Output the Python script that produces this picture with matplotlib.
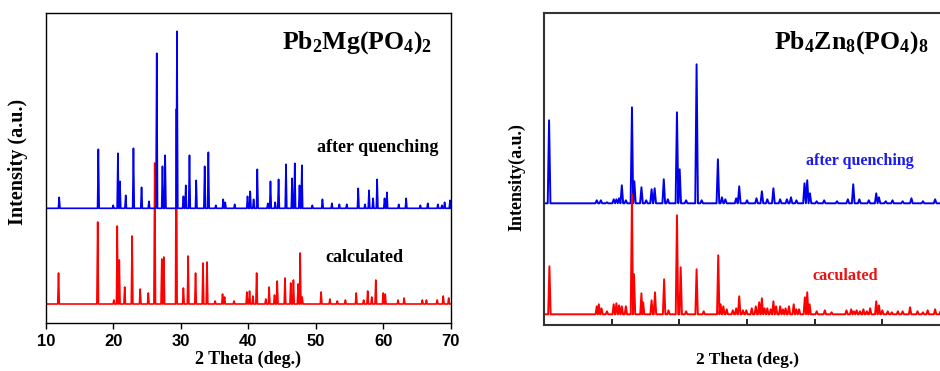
import matplotlib
matplotlib.use('Agg')
import matplotlib.pyplot as plt
import numpy as np

plt.rcParams['mathtext.fontset'] = 'custom'
plt.rcParams['mathtext.rm'] = 'Liberation Serif'
plt.rcParams['mathtext.bf'] = 'Liberation Serif:bold'

# Pb2Mg(PO4)2 - after quenching (blue)
mg_exp_pos = [12.0, 17.8, 20.0, 20.7, 21.0, 21.85, 23.0, 24.2, 25.3, 26.45, 27.3, 27.7, 29.45,
              30.4, 30.75, 31.3, 32.3, 33.55, 34.1, 35.2, 36.3, 36.6, 38.0, 39.9, 40.3, 40.8,
              41.35, 42.9, 43.3, 44.0, 44.5, 45.6, 46.5, 46.9, 47.6, 47.95, 49.5, 51.0, 52.4,
              53.5, 54.6, 56.3, 57.3, 57.9, 58.5, 59.1, 60.2, 60.55, 62.3, 63.4, 65.5, 66.6,
              68.1, 68.7, 69.1, 69.9]
mg_exp_int = [11, 59, 3, 55, 27, 13, 60, 21, 7, 155, 42, 53, 177,
              12, 23, 53, 28, 42, 56, 3, 9, 6, 4, 12, 17, 9,
              39, 5, 27, 6, 29, 44, 30, 45, 23, 43, 3, 9, 5,
              4, 4, 20, 4, 18, 10, 29, 10, 16, 4, 10, 3, 5,
              4, 3, 6, 8]

# Pb2Mg(PO4)2 - calculated (red)
mg_cal_pos = [11.9, 17.7, 20.1, 20.6, 20.9, 21.7, 22.8, 24.0, 25.2, 26.15, 27.2, 27.5, 29.35,
              30.4, 31.1, 32.2, 33.3, 33.9, 35.1, 36.2, 36.5, 37.9, 39.8, 40.2, 40.7, 41.25,
              42.6, 43.1, 43.9, 44.3, 45.45, 46.3, 46.7, 47.4, 47.7, 48.0, 50.8, 52.1, 53.2,
              54.4, 56.0, 57.1, 57.7, 58.3, 58.9, 60.0, 60.3, 62.2, 63.1, 65.8, 66.4, 68.0,
              68.9, 69.7]
mg_cal_int = [31, 82, 4, 78, 44, 17, 68, 15, 11, 141, 45, 47, 195,
              16, 48, 31, 41, 42, 3, 10, 7, 3, 12, 13, 8, 31,
              5, 17, 9, 23, 26, 21, 24, 20, 51, 7, 12, 5, 3,
              4, 11, 4, 13, 7, 24, 11, 10, 4, 6, 4, 4, 4,
              8, 6]

# Pb4Zn8(PO4)8 - after quenching (blue)
zn_exp_pos = [10.75, 17.8, 18.4, 19.3, 20.3, 20.7, 21.1, 21.5, 22.1, 23.0, 23.35, 24.4, 25.1,
              25.9, 26.35, 27.7, 28.3, 29.65, 30.05, 31.0, 32.55, 33.3, 35.7, 36.3, 36.8,
              38.4, 38.85, 40.0, 41.4, 42.2, 43.0, 43.9, 44.9, 45.9, 46.5, 47.3, 48.5, 48.9,
              49.3, 50.3, 51.4, 53.3, 54.9, 55.7, 56.6, 58.0, 59.1, 59.5, 60.5, 61.5, 63.0,
              64.3, 66.0, 67.8, 69.0]
zn_exp_int = [83, 3, 3, 1, 4, 4, 5, 18, 3, 96, 22, 16, 3,
              14, 15, 24, 4, 91, 34, 3, 139, 3, 44, 6, 4,
              5, 17, 3, 5, 12, 4, 15, 4, 4, 6, 3, 20, 23,
              10, 2, 3, 2, 4, 19, 4, 3, 10, 6, 2, 3, 2,
              5, 2, 4, 3]

# Pb4Zn8(PO4)8 - calculated (red)
zn_cal_pos = [10.8, 17.8, 18.1, 18.5, 19.3, 20.3, 20.7, 21.1, 21.5, 22.1, 23.0, 23.3, 24.4,
              24.65, 25.9, 26.4, 27.75, 28.4, 29.65, 30.2, 31.0, 32.55, 33.6, 35.75, 36.1,
              36.5, 37.0, 37.9, 38.4, 38.85, 39.4, 39.9, 40.7, 41.3, 41.8, 42.2, 42.6, 43.0,
              43.5, 43.9, 44.3, 44.9, 45.3, 45.7, 46.2, 46.9, 47.3, 47.7, 48.55, 48.9, 49.25,
              50.3, 51.5, 52.5, 54.7, 55.4, 55.8, 56.2, 56.7, 57.2, 57.7, 58.2, 59.1, 59.5,
              60.0, 60.8, 61.4, 62.3, 63.0, 64.1, 65.2, 66.0, 66.7, 67.8, 68.6, 69.5]
zn_cal_int = [48, 8, 10, 6, 3, 10, 11, 9, 8, 8, 120, 40, 21,
              12, 14, 22, 35, 4, 99, 47, 3, 45, 3, 59, 10,
              8, 5, 4, 6, 18, 4, 4, 6, 8, 12, 16, 6, 6,
              5, 13, 8, 8, 5, 6, 8, 10, 5, 5, 17, 22, 10,
              3, 4, 2, 4, 5, 3, 4, 3, 5, 3, 6, 13, 9,
              4, 3, 2, 3, 3, 7, 3, 2, 4, 5, 3, 3]


def perfil(pos, alt, hw):
    # picos estrechos sobre linea base, sin solapar vecinos
    xs = [10.0]
    ys = [0.0]
    n = len(pos)
    for i in range(n):
        p = pos[i]
        a = p - hw
        b = p + hw
        if i > 0:
            a = max(a, (pos[i - 1] + p) / 2)
        if i < n - 1:
            b = min(b, (p + pos[i + 1]) / 2)
        xs += [a, p, b]
        ys += [0, alt[i], 0]
    xs.append(70.0)
    ys.append(0.0)
    return np.array(xs), np.array(ys)


serif = 'Liberation Serif'
W, H = 940, 371
fig = plt.figure(figsize=(W / 100, H / 100), dpi=100)

# ---- panel izquierdo
ax1 = fig.add_axes([45.7 / W, (H - 323.3) / H, 405 / W, 310.6 / H])
x, y = perfil(mg_cal_pos, mg_cal_int, 0.12)
ax1.plot(x, y + 19.3, color='#ff0000', lw=1.2)
x, y = perfil(mg_exp_pos, mg_exp_int, 0.12)
ax1.plot(x, y + 115, color='#0000ee', lw=1.2)
ax1.set_xlim(10, 70)
ax1.set_ylim(0, 310.6)
ax1.set_xticks(range(10, 71, 10))
ax1.set_yticks([])
ax1.tick_params(axis='x', direction='out', length=4, width=1, pad=4)
for lab in ax1.get_xticklabels():
    lab.set_fontfamily('Liberation Sans')
    lab.set_fontweight('bold')
    lab.set_fontsize(12)
for s in ax1.spines.values():
    s.set_linewidth(1.0)
ax1.set_xlabel('2 Theta (deg.)', family=serif, weight='bold', fontsize=13, labelpad=1)
ax1.set_ylabel('Intensity (a.u.)', family=serif, weight='bold', fontsize=14.5)
ax1.yaxis.set_label_coords(-0.044, 0.52)
ax1.text(0.954, 0.905, r'$\mathbf{Pb_2Mg(PO_4)_2}$', transform=ax1.transAxes,
         ha='right', va='center', fontsize=18.5)
ax1.text(0.819, 0.566, 'after quenching', transform=ax1.transAxes, ha='center', va='center',
         family=serif, weight='bold', fontsize=13)
ax1.text(0.786, 0.213, 'calculated', transform=ax1.transAxes, ha='center', va='center',
         family=serif, weight='bold', fontsize=13)

# ---- panel derecho (recortado a la derecha)
ax2 = fig.add_axes([544 / W, (H - 325) / H, 406 / W, 311.7 / H])
x, y = perfil(zn_exp_pos, zn_exp_int, 0.2)
ax2.plot(x, y + 121.7, color='#0000ee', lw=1.4)
x, y = perfil(zn_cal_pos, zn_cal_int, 0.18)
ax2.plot(x, y + 10.7, color='#ff0000', lw=1.4)
ax2.set_xlim(10, 70)
ax2.set_ylim(0, 311.7)
ax2.set_xticks(range(10, 71, 10))
ax2.set_xticklabels([])
ax2.set_yticks([])
ax2.tick_params(axis='x', direction='in', length=4, width=1.2)
for s in ax2.spines.values():
    s.set_linewidth(1.5)
    s.set_color('#333333')
ax2.set_xlabel('2 Theta (deg.)', family=serif, weight='bold', fontsize=12.5)
ax2.xaxis.set_label_coords(0.501, -0.088)
ax2.set_ylabel('Intensity(a.u.)', family=serif, weight='bold', fontsize=13)
ax2.yaxis.set_label_coords(-0.047, 0.476)
ax2.text(0.946, 0.905, r'$\mathbf{Pb_4Zn_8(PO_4)_8}$', transform=ax2.transAxes,
         ha='right', va='center', fontsize=18.5)
ax2.text(0.778, 0.527, 'after quenching', transform=ax2.transAxes, ha='center', va='center',
         family=serif, weight='bold', fontsize=11.5, color='#1a1aee')
ax2.text(0.741, 0.157, 'caculated', transform=ax2.transAxes, ha='center', va='center',
         family=serif, weight='bold', fontsize=11.7, color='#ee1111')

fig.savefig('out.png', dpi=100)
